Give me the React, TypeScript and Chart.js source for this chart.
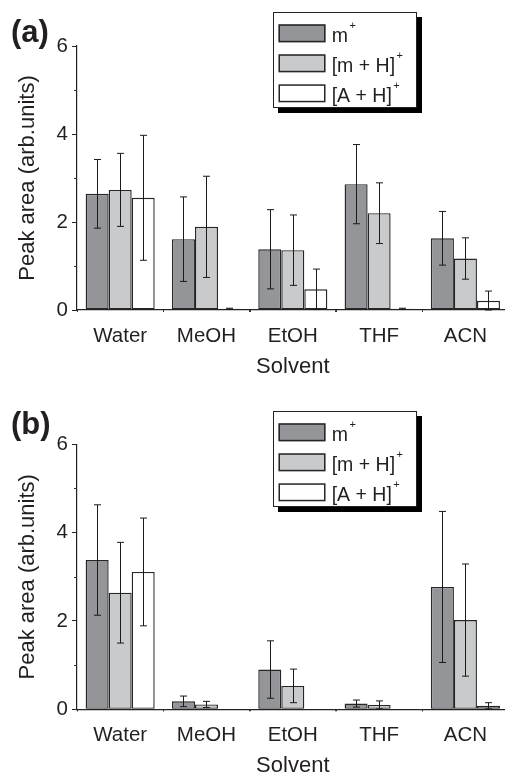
import React, { useEffect, useRef } from 'react';
import { Chart, registerables } from 'chart.js';

Chart.register(...registerables);

// ---------- data ----------
const categories = ['Water', 'MeOH', 'EtOH', 'THF', 'ACN'];
const seriesLabels = ['m', '[m + H]', '[A + H]'];
const seriesSuperscript = '+';
const panelLabels = ['(a)', '(b)'];
const xTitle = 'Solvent';
const yTitle = 'Peak area (arb.units)';
const yMin = 0;
const yMax = 6;
const yStep = 2;
const yMinorTicks = [1, 3, 5];

// panel (a)
const aMPlus = [2.64, 1.61, 1.38, 2.86, 1.63];
const aMPlusErr = [0.78, 0.96, 0.9, 0.9, 0.61];
const aMH = [2.73, 1.89, 1.36, 2.2, 1.17];
const aMHErr = [0.83, 1.15, 0.8, 0.69, 0.47];
const aAH = [2.55, 0.03, 0.47, 0.03, 0.21];
const aAHErr = [1.42, 0.01, 0.46, 0.01, 0.22];

// panel (b)
const bMPlus = [3.38, 0.18, 0.9, 0.13, 2.77];
const bMPlusErr = [1.25, 0.12, 0.65, 0.08, 1.71];
const bMH = [2.64, 0.11, 0.53, 0.1, 2.02];
const bMHErr = [1.14, 0.07, 0.38, 0.09, 1.27];
const bAH = [3.11, 0, 0, 0, 0.08];
const bAHErr = [1.22, 0, 0, 0, 0.07];

// ---------- styles ----------
const FONT = "'Liberation Sans', Arial, Helvetica, sans-serif";
const TEXT = '#231f20';
const fills = ['#939598', '#c9cacc', '#ffffff'];
const BORDER = '#262626';

const errorBarPlugin = {
  id: 'errorBars',
  afterDatasetsDraw(chart: any, _args: any, opts: any) {
    const errs: number[][] = opts.errors || [];
    const ys = chart.scales.y;
    const ctx = chart.ctx;
    ctx.save();
    ctx.strokeStyle = opts.color;
    ctx.lineWidth = opts.lineWidth;
    const cap = opts.cap;
    chart.data.datasets.forEach((ds: any, i: number) => {
      const meta = chart.getDatasetMeta(i);
      meta.data.forEach((bar: any, j: number) => {
        const v = ds.data[j];
        const e = errs[i] ? errs[i][j] : 0;
        if (!e) return;
        const x = Math.round(bar.x) + 0.5;
        const top = ys.getPixelForValue(v + e);
        const bot = ys.getPixelForValue(Math.max(0, v - e));
        ctx.beginPath();
        ctx.moveTo(x, top);
        ctx.lineTo(x, bot);
        ctx.moveTo(x - cap, top);
        ctx.lineTo(x + cap, top);
        ctx.moveTo(x - cap, bot);
        ctx.lineTo(x + cap, bot);
        ctx.stroke();
      });
    });
    ctx.restore();
  },
};

const extraTicksPlugin = {
  id: 'extraTicks',
  afterDraw(chart: any, _args: any, opts: any) {
    const ctx = chart.ctx;
    const ys = chart.scales.y;
    const xs = chart.scales.x;
    const area = chart.chartArea;
    ctx.save();
    ctx.strokeStyle = opts.color;
    ctx.lineWidth = 1;
    ctx.beginPath();
    (opts.yMinor || []).forEach((v: number) => {
      const y = Math.round(ys.getPixelForValue(v)) + 0.5;
      ctx.moveTo(area.left - opts.yLen, y);
      ctx.lineTo(area.left, y);
    });
    const n = chart.data.labels.length;
    const step = n > 1 ? xs.getPixelForValue(1) - xs.getPixelForValue(0) : 0;
    for (let i = 0; i <= n; i++) {
      const x = Math.round(xs.getPixelForValue(0) - step / 2 + i * step) + 0.5;
      ctx.moveTo(x, area.bottom);
      ctx.lineTo(x, area.bottom + opts.xLen);
    }
    ctx.stroke();
    ctx.restore();
  },
};

const boxLegendPlugin = {
  id: 'boxLegend',
  afterDraw(chart: any, _args: any, o: any) {
    const ctx = chart.ctx;
    const { x, y, w, h, shadow } = o;
    ctx.save();
    ctx.fillStyle = '#000';
    ctx.fillRect(x + shadow, y + shadow, w, h);
    ctx.fillStyle = '#fff';
    ctx.fillRect(x, y, w, h);
    ctx.strokeStyle = '#222';
    ctx.lineWidth = 1;
    ctx.strokeRect(x + 0.5, y + 0.5, w - 1, h - 1);
    chart.data.datasets.forEach((ds: any, i: number) => {
      const sy = y + o.rowTop + i * o.rowGap;
      const sx = x + o.swX;
      ctx.fillStyle = ds.backgroundColor;
      ctx.fillRect(sx, sy, o.swW, o.swH);
      ctx.strokeStyle = ds.borderColor;
      ctx.lineWidth = 1.5;
      ctx.strokeRect(sx + 0.75, sy + 0.75, o.swW - 1.5, o.swH - 1.5);
      ctx.fillStyle = TEXT;
      ctx.font = `${o.fontSize}px ${FONT}`;
      ctx.textBaseline = 'alphabetic';
      ctx.textAlign = 'left';
      const tx = x + o.textX;
      const by = sy + o.swH - 0.5;
      ctx.fillText(ds.label, tx, by);
      const wl = ctx.measureText(ds.label).width;
      ctx.font = `${o.supSize}px ${FONT}`;
      ctx.textBaseline = 'middle';
      ctx.fillText(o.sup, tx + wl + 1.5, by - o.supRise);
    });
    ctx.restore();
  },
};

const panelLabelPlugin = {
  id: 'panelLabel',
  afterDraw(chart: any, _args: any, o: any) {
    const ctx = chart.ctx;
    ctx.save();
    ctx.fillStyle = TEXT;
    ctx.font = `bold ${o.size}px ${FONT}`;
    ctx.textBaseline = 'alphabetic';
    ctx.textAlign = 'left';
    ctx.fillText(o.text, o.x, o.y);
    ctx.restore();
  },
};

function makeConfig(
  series: number[][],
  errors: number[][],
  label: string,
  pad: { top: number; bottom: number },
  legendY: number,
  labelY: number
): any {
  return {
    type: 'bar',
    data: {
      labels: categories,
      datasets: series.map((d, i) => ({
        label: seriesLabels[i],
        data: d,
        backgroundColor: fills[i],
        borderColor: BORDER,
        borderWidth: 1.4,
        borderSkipped: false,
        categoryPercentage: 0.8,
        barPercentage: 1.0,
      })),
    },
    options: {
      animation: false,
      responsive: false,
      devicePixelRatio: 1,
      layout: { padding: { left: 0, right: 3.4, top: pad.top, bottom: pad.bottom } },
      plugins: {
        legend: { display: false },
        tooltip: { enabled: false },
        errorBars: { errors, color: '#1a1a1a', lineWidth: 1, cap: 3.5 },
        extraTicks: { yMinor: yMinorTicks, yLen: 3, xLen: 2, color: '#333' },
        boxLegend: {
          x: 273, y: legendY, w: 144, h: 96, shadow: 5,
          swX: 5.5, swW: 47, swH: 18, rowTop: 12.3, rowGap: 30,
          textX: 58.7, fontSize: 19.5, sup: seriesSuperscript, supSize: 11, supRise: 16,
        },
        panelLabel: { text: label, x: 11, y: labelY, size: 31 },
      },
      scales: {
        x: {
          afterFit: (s: any) => { s.height = 65.5; },
          grid: { drawOnChartArea: false, drawTicks: true, tickLength: 2, color: '#333' },
          border: { display: true, color: '#222', width: 1.2 },
          ticks: { color: TEXT, font: { size: 20.5, family: FONT }, padding: 12, maxRotation: 0 },
          title: {
            display: true, text: xTitle, color: TEXT,
            font: { size: 22, family: FONT, lineHeight: 1 }, padding: { top: 0, bottom: -2 },
          },
        },
        y: {
          min: yMin, max: yMax,
          afterFit: (s: any) => { s.width = 77; },
          grid: { drawOnChartArea: false, drawTicks: true, tickLength: 5, color: '#222' },
          border: { display: true, color: '#222', width: 1.2 },
          ticks: { stepSize: yStep, color: TEXT, font: { size: 20.5, family: FONT }, padding: 4 },
          title: {
            display: true, text: yTitle, color: TEXT,
            font: { size: 22, family: FONT, lineHeight: 1 }, padding: { top: 17, bottom: 0 },
          },
        },
      },
    },
    plugins: [errorBarPlugin, extraTicksPlugin, boxLegendPlugin, panelLabelPlugin],
  };
}

export default function App() {
  const refA = useRef<HTMLCanvasElement>(null);
  const refB = useRef<HTMLCanvasElement>(null);

  useEffect(() => {
    const ca = new Chart(
      refA.current as HTMLCanvasElement,
      makeConfig(
        [aMPlus, aMH, aAH],
        [aMPlusErr, aMHErr, aAHErr],
        panelLabels[0],
        { top: 46, bottom: 12.5 },
        12,
        42.2
      )
    );
    const cb = new Chart(
      refB.current as HTMLCanvasElement,
      makeConfig(
        [bMPlus, bMH, bAH],
        [bMPlusErr, bMHErr, bAHErr],
        panelLabels[1],
        { top: 56.3, bottom: 1.2 },
        23,
        45.9
      )
    );
    return () => {
      ca.destroy();
      cb.destroy();
    };
  }, []);

  return (
    <div
      style={{
        position: 'fixed', left: 0, top: 0, width: 505, height: 776,
        overflow: 'hidden', background: '#fff',
      }}
    >
      <canvas ref={refA} width={512} height={388}
        style={{ position: 'absolute', left: 0, top: 0, width: 512, height: 388 }} />
      <canvas ref={refB} width={512} height={388}
        style={{ position: 'absolute', left: 0, top: 388, width: 512, height: 388 }} />
    </div>
  );
}
